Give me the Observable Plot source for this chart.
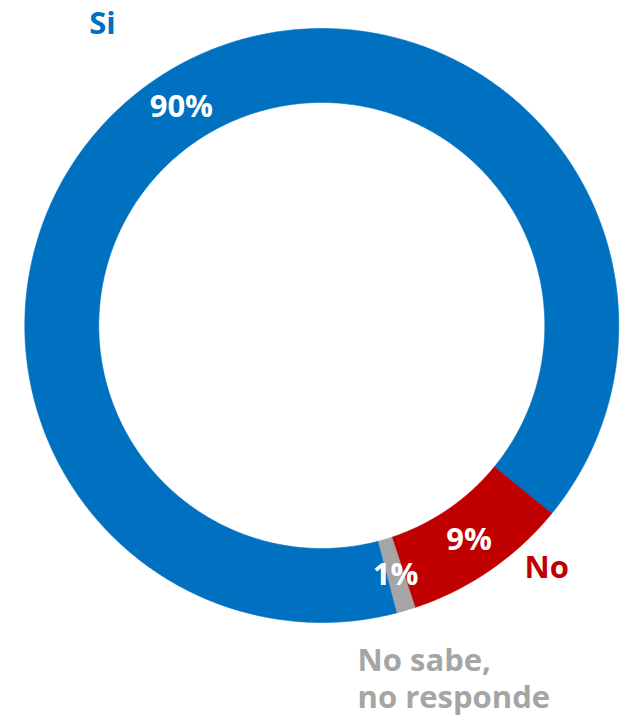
<!DOCTYPE html>
<html>
<head>
<meta charset="utf-8">
<script src="https://cdn.jsdelivr.net/npm/d3@7"></script>
<script src="https://cdn.jsdelivr.net/npm/@observablehq/plot@0.6"></script>
<style>
  html, body { margin: 0; padding: 0; background: #fff; }
  #chart svg { display: block; }
</style>
</head>
<body>
<div id="chart"></div>
<script>
// ---- data ----
const categories = ["Si", "No", "No sabe,\nno responde"];
const values = [90, 9, 1];
const valueLabels = ["90%", "9%", "1%"];
const colors = ["#0070C0", "#C00000", "#A5A5A5"];

// ---- layout settings ----
const W = 631, H = 722;
const cx = 321.3, cy = 325;
const outerR = 297, innerR = 223;
const startDeg = 165.3;
// category label placement: angle offset from slice middle (deg), radius (px), anchor
const labelAngleOffset = [-3.3, -8.3, 10.7];
const labelRadius = [373, 331, 354];
const labelAnchor = ["middle", "middle", "start"];

const rad = Math.PI / 180;
const pie = d3.pie().sort(null).startAngle(startDeg * rad).endAngle(startDeg * rad + 2 * Math.PI);
const arcs = pie(values).map((a, i) => ({...a, name: categories[i], label: valueLabels[i], i}));

const pt = (r, t) => [r * Math.sin(t), -r * Math.cos(t)];

// polygon points for each slice
const ringPts = [];
for (const a of arcs) {
  const n = Math.max(2, Math.ceil((a.endAngle - a.startAngle) / (0.4 * rad)));
  const pts = [];
  for (let k = 0; k <= n; k++) {
    const t = a.startAngle + (a.endAngle - a.startAngle) * k / n;
    pts.push(pt(outerR, t));
  }
  for (let k = n; k >= 0; k--) {
    const t = a.startAngle + (a.endAngle - a.startAngle) * k / n;
    pts.push(pt(innerR, t));
  }
  pts.push(pts[0]);
  pts.forEach(([x, y]) => ringPts.push({x, y, name: a.name}));
}

const midR = (outerR + innerR) / 2;
const valuePos = arcs.map(a => {
  const t = (a.startAngle + a.endAngle) / 2;
  const [x, y] = pt(midR, t);
  return {x, y, label: a.label};
});
const catPos = arcs.map((a, i) => {
  const t = (a.startAngle + a.endAngle) / 2 + labelAngleOffset[i] * rad;
  const [x, y] = pt(labelRadius[i], t);
  return {x, y, name: a.name, anchor: labelAnchor[i]};
});

const font = "'Open Sans', sans-serif";
const fs = 31;

const chart = Plot.plot({
  width: W,
  height: H,
  margin: 0,
  style: {fontFamily: font, background: "#fff"},
  x: {domain: [-cx, W - cx], range: [0, W], axis: null},
  y: {domain: [-cy, H - cy], range: [0, H], axis: null},
  color: {domain: categories, range: colors},
  marks: [
    Plot.line(ringPts, {x: "x", y: "y", z: "name", fill: "name", stroke: "name", strokeWidth: 0.6, curve: "linear"}),
    Plot.text(valuePos, {x: "x", y: "y", text: "label", fill: "white", fontSize: fs, fontWeight: 700}),
    Plot.text(catPos.filter(d => d.anchor === "middle"), {x: "x", y: "y", text: "name", fill: "name", fontSize: fs, fontWeight: 700, textAnchor: "middle"}),
    Plot.text(catPos.filter(d => d.anchor === "start"), {x: "x", y: "y", text: "name", fill: "name", fontSize: fs, fontWeight: 700, textAnchor: "start", lineHeight: 1.19})
  ]
});
document.getElementById("chart").appendChild(chart);
</script>
</body>
</html>
